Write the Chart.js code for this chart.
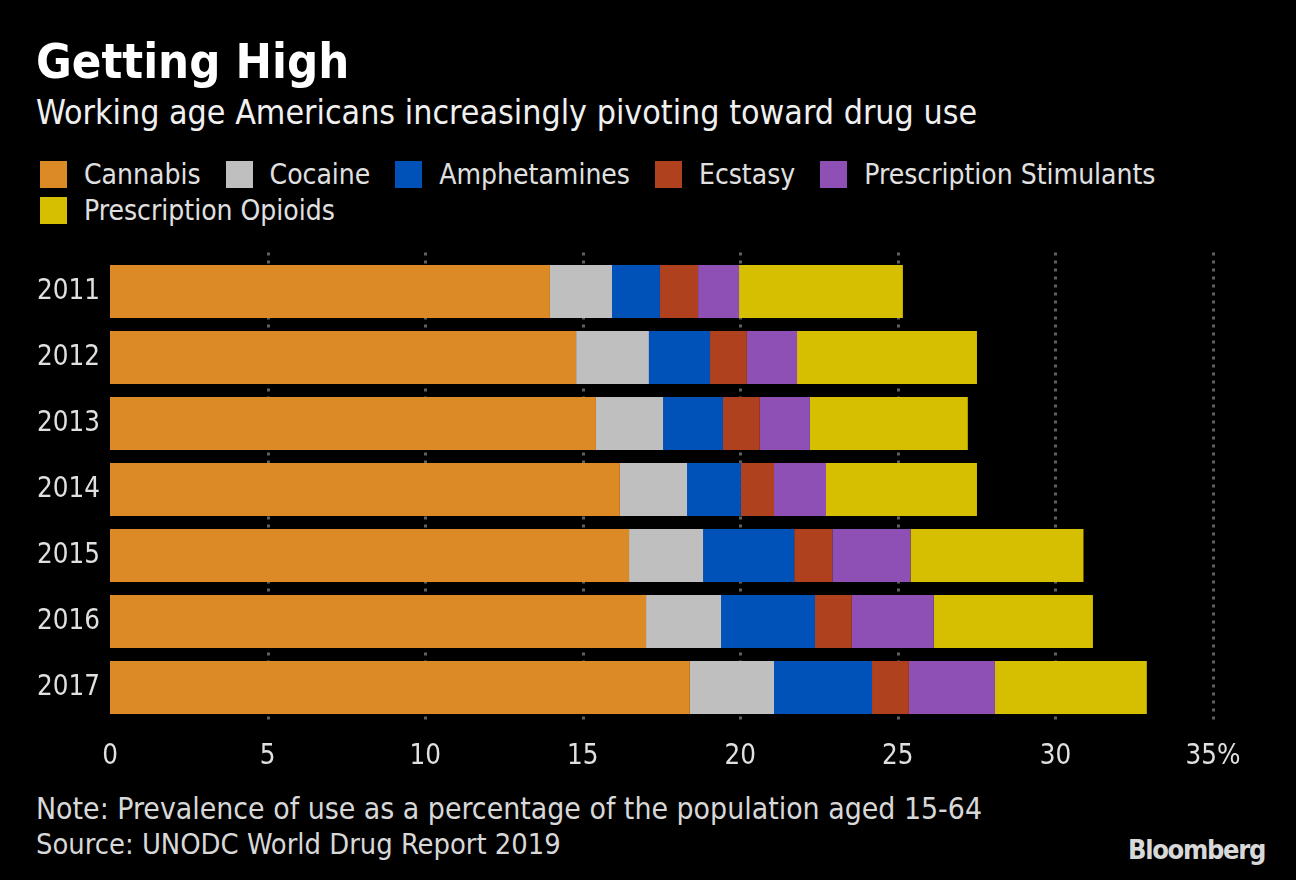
<!DOCTYPE html>
<html>
<head>
<meta charset="utf-8">
<script src="https://cdn.jsdelivr.net/npm/chart.js@4.4.0/dist/chart.umd.min.js"></script>
<style>
    body {
        margin: 0;
        width: 1296px;
        height: 880px;
        background: #000;
        overflow: hidden;
        font-family: "DejaVu Sans Condensed", "DejaVu Sans", sans-serif;
        color: #e0e0e0;
        position: relative;
    }
    .title {
        position: absolute;
        left: 36px;
        top: 35px;
        font-size: 48.5px;
        font-weight: bold;
        color: #fff;
        line-height: 52px;
    }
    .subtitle {
        position: absolute;
        left: 36px;
        top: 94px;
        font-size: 33.7px;
        line-height: 38px;
        color: #f0f0f0;
    }
    .legend {
        position: absolute;
        left: 40px;
        top: 156px;
        width: 1200px;
        display: flex;
        flex-wrap: wrap;
    }
    .legend-item {
        display: flex;
        align-items: center;
        font-size: 28px;
        height: 36px;
        margin-right: 25px;
    }
    .legend-item .sw {
        width: 27px;
        height: 27px;
        margin-right: 17px;
    }
    .note {
        position: absolute;
        left: 36px;
        font-size: 29.9px;
        line-height: 34px;
        color: #d8d8d8;
        white-space: nowrap;
    }
    .logo {
        position: absolute;
        left: 1128px;
        top: 834px;
        font-size: 27px;
        font-weight: bold;
        color: #d8d8d8;
        letter-spacing: -1.3px;
    }
    #wrap {
        position: absolute;
        left: 0;
        top: 240px;
        width: 1296px;
        height: 540px;
    }
</style>
</head>
<body>
<div class="title">Getting High</div>
<div class="subtitle">Working age Americans increasingly pivoting toward drug use</div>
<div class="legend" id="legend"></div>
<div id="wrap"><canvas id="chart"></canvas></div>
<div class="note" style="top: 792px;">Note: Prevalence of use as a percentage of the population aged 15-64</div>
<div class="note" style="top: 827px; font-size: 28.8px;">Source: UNODC World Drug Report 2019</div>
<div class="logo">Bloomberg</div>

<script>
// данные (% населения 15-64)
const years = ['2011', '2012', '2013', '2014', '2015', '2016', '2017'];
const cannabis = [13.96, 14.79, 15.42, 16.18, 16.47, 17.01, 18.40];
const cocaine = [1.97, 2.31, 2.13, 2.13, 2.35, 2.38, 2.67];
const amphetamines = [1.52, 1.94, 1.90, 1.71, 2.89, 2.98, 3.11];
const ecstasy = [1.21, 1.17, 1.17, 1.05, 1.21, 1.17, 1.17];
const stimulants = [1.30, 1.59, 1.59, 1.65, 2.48, 2.60, 2.73];
const opioids = [5.20, 5.71, 5.01, 4.79, 5.49, 5.05, 4.82];
const xTicks = [0, 5, 10, 15, 20, 25, 30, 35];

const series = [
    { label: 'Cannabis', data: cannabis, color: '#db8a25' },
    { label: 'Cocaine', data: cocaine, color: '#bfbfbf' },
    { label: 'Amphetamines', data: amphetamines, color: '#0052b9' },
    { label: 'Ecstasy', data: ecstasy, color: '#b0411e' },
    { label: 'Prescription Stimulants', data: stimulants, color: '#8e50b5' },
    { label: 'Prescription Opioids', data: opioids, color: '#d6be00' }
];

const legend = document.getElementById('legend');
series.forEach(s => {
    const item = document.createElement('div');
    item.className = 'legend-item';
    item.innerHTML = `<span class="sw" style="background:${s.color}"></span>${s.label}`;
    legend.appendChild(item);
});

// пунктирная сетка, выходящая чуть за пределы области графика
const dottedGrid = {
    id: 'dottedGrid',
    beforeDatasetsDraw(chart) {
        const ctx = chart.ctx;
        const x = chart.scales.x;
        const area = chart.chartArea;
        ctx.save();
        ctx.strokeStyle = '#606060';
        ctx.lineWidth = 3;
        ctx.setLineDash([3, 5]);
        xTicks.forEach(v => {
            if (v === 0) return;
            const px = Math.round(x.getPixelForValue(v)) + 0.5;
            ctx.beginPath();
            ctx.moveTo(px, area.top - 6);
            ctx.lineTo(px, area.bottom + 4);
            ctx.stroke();
        });
        ctx.restore();
    }
};

const tickFont = { family: '"DejaVu Sans Condensed", "DejaVu Sans"', size: 27.5 };

new Chart(document.getElementById('chart'), {
    type: 'bar',
    data: {
        labels: years,
        datasets: series.map(s => ({
            label: s.label,
            data: s.data,
            backgroundColor: s.color,
            borderWidth: 0,
            barPercentage: 0.803,
            categoryPercentage: 1
        }))
    },
    options: {
        indexAxis: 'y',
        responsive: true,
        maintainAspectRatio: false,
        animation: false,
        layout: { padding: { top: 18.5, right: 83, left: 0, bottom: 0 } },
        plugins: {
            legend: { display: false },
            tooltip: { enabled: false }
        },
        scales: {
            x: {
                stacked: true,
                min: 0,
                max: 35,
                afterBuildTicks(scale) {
                    scale.ticks = xTicks.map(v => ({ value: v }));
                },
                afterFit(scale) {
                    scale.height = 59.5;
                    scale.paddingLeft = 0;
                    scale.paddingRight = 0;
                },
                grid: { display: false, drawTicks: false },
                border: { display: false },
                ticks: {
                    color: '#e0e0e0',
                    padding: 20,
                    font: tickFont,
                    callback: v => v === 35 ? '35%' : v
                }
            },
            y: {
                stacked: true,
                afterFit(scale) {
                    scale.width = 110;
                    scale.paddingTop = 0;
                    scale.paddingBottom = 0;
                },
                grid: { display: false, drawTicks: false },
                border: { display: false },
                ticks: {
                    color: '#e0e0e0',
                    padding: 10,
                    font: tickFont
                }
            }
        }
    },
    plugins: [dottedGrid]
});
</script>
</body>
</html>
